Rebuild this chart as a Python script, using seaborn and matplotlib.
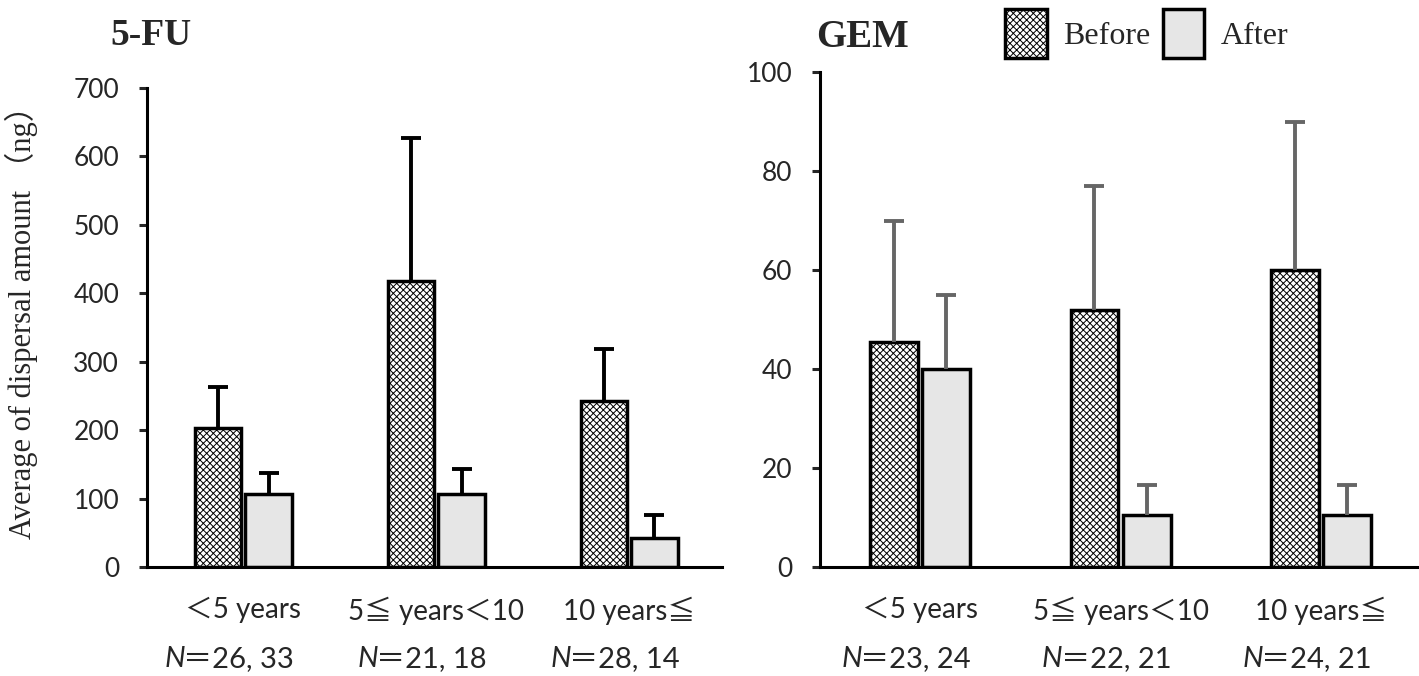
import numpy as np
import pandas as pd
import seaborn as sns
import matplotlib.pyplot as plt
from matplotlib.patches import Patch

periods = ['＜5 years', '5≦ years＜10', '10 years≦']
groups = ['Before', 'After']

fu_before = [203, 418, 242]
fu_after = [107, 107, 43]
fu_before_sd = [60, 209, 76]
fu_after_sd = [31, 36, 33]
fu_n = ['26, 33', '21, 18', '28, 14']

gem_before = [45.5, 52, 60]
gem_after = [40, 10.5, 10.5]
gem_before_sd = [24.5, 25, 30]
gem_after_sd = [15, 6, 6]
gem_n = ['23, 24', '22, 21', '24, 21']

sns.set_style('white')
plt.rcParams['hatch.linewidth'] = 0.7
serif = ['Liberation Serif', 'Noto Sans CJK JP']
sans = ['Lato', 'Noto Sans CJK JP']
dots = 'xxxxx'


def make_df(before, after, before_sd, after_sd):
    return pd.DataFrame({
        'period': periods * 2,
        'group': ['Before'] * 3 + ['After'] * 3,
        'value': before + after,
        'sd': before_sd + after_sd,
    })


def draw_panel(ax, df, ymax, step, err_color, ns):
    sns.barplot(data=df, x='period', y='value', hue='group', hue_order=groups,
                palette={'Before': 'white', 'After': '#e6e6e6'}, saturation=1,
                edgecolor='black', linewidth=2.5, width=0.52, gap=0.08,
                errorbar=None, legend=False, ax=ax)
    bar_conts = list(ax.containers)
    for i, cont in enumerate(bar_conts):
        sds = df[df['group'] == groups[i]]['sd'].values
        for bar, sd in zip(cont.patches, sds):
            if i == 0:
                bar.set_hatch(dots)
            xc = bar.get_x() + bar.get_width() / 2
            _, caps, _ = ax.errorbar(xc, bar.get_height(), yerr=[[0], [sd]], fmt='none',
                                     ecolor=err_color, elinewidth=2.8, capsize=7.5,
                                     capthick=2.8, zorder=1)
            caps[0].set_visible(False)
    ax.set_xlim(-0.5, 2.48)
    ax.set_ylim(0, ymax)
    ax.set_yticks(np.arange(0, ymax + 1, step))
    ax.set_xlabel('')
    ax.set_ylabel('')
    sns.despine(ax=ax)
    for sp in ['left', 'bottom']:
        ax.spines[sp].set_linewidth(2.2)
        ax.spines[sp].set_color('black')
    ax.tick_params(axis='y', left=True, length=6, width=2.2, labelsize=19, pad=14)
    ax.tick_params(axis='x', bottom=False, labelsize=20, pad=18)
    for lab in ax.get_yticklabels():
        lab.set_family(sans)
    for lab in ax.get_xticklabels():
        lab.set_family(sans)
    for k, n in enumerate(ns):
        ax.annotate('N', xy=(k, 0), xycoords=('data', 'axes fraction'),
                    xytext=(-58, -92), textcoords='offset pixels',
                    ha='right', va='center', fontsize=21, style='italic',
                    family=sans)
        ax.annotate('＝' + n, xy=(k, 0),
                    xycoords=('data', 'axes fraction'),
                    xytext=(-60, -92), textcoords='offset pixels',
                    ha='left', va='center', fontsize=21, family=sans)


fig = plt.figure(figsize=(14.19, 6.76), dpi=100)
ax1 = fig.add_axes([0.1036, 0.1612, 0.4052, 0.7086])
ax2 = fig.add_axes([0.5779, 0.1612, 0.4207, 0.7322])

draw_panel(ax1, make_df(fu_before, fu_after, fu_before_sd, fu_after_sd), 700, 100, 'black', fu_n)
draw_panel(ax2, make_df(gem_before, gem_after, gem_before_sd, gem_after_sd), 100, 20, '#666666', gem_n)

ax1.set_ylabel('Average of dispersal amount （ng）', family=serif, fontsize=22)
ax1.yaxis.set_label_coords(-0.19, 0.526)

fig.text(0.0775, 0.948, '5-FU', family='Liberation Serif', fontweight='bold', fontsize=27, va='center')
fig.text(0.575, 0.944, 'GEM', family='Liberation Serif', fontweight='bold', fontsize=28, va='center')

handles = [Patch(facecolor='white', edgecolor='black', linewidth=2.5, hatch=dots, label='Before'),
           Patch(facecolor='#e6e6e6', edgecolor='black', linewidth=2.5, label='After')]
fig.legend(handles=handles, loc='center', bbox_to_anchor=(0.808, 0.95), ncol=2,
           frameon=False, prop={'family': 'Liberation Serif', 'size': 23},
           handlelength=1.3, handleheight=2.0, handletextpad=0.5, columnspacing=0.4)

fig.savefig('out.png', dpi=100)
